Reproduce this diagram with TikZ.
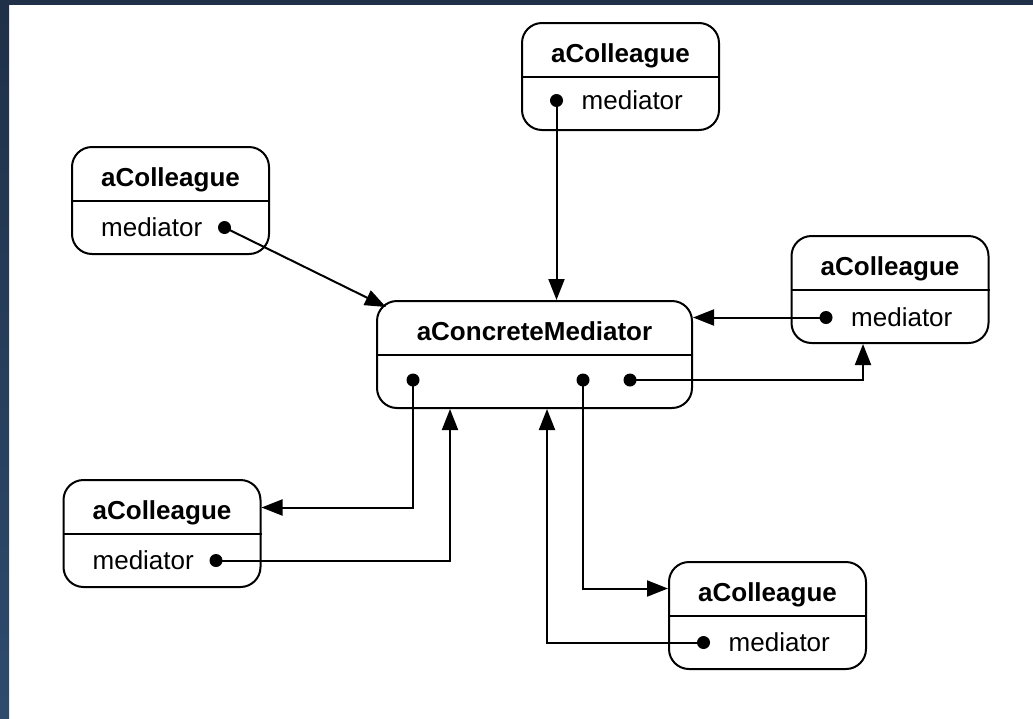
\documentclass[tikz,border=0pt]{standalone}
\usepackage{fontspec}
\setmainfont{Liberation Sans}
\usetikzlibrary{arrows.meta}
\definecolor{frame}{HTML}{1F3048}
\definecolor{framelow}{HTML}{2E4B6E}
\tikzset{
	>={Triangle[length=21pt,width=16pt]},
	obj/.style={draw, rounded corners=20pt, line width=2pt, minimum width=197pt, minimum height=107pt, inner sep=0pt},
	rule/.style={line width=2pt},
	pin/.style={circle, fill, inner sep=0pt, minimum size=13pt},
	title/.style={inner sep=0pt, anchor=base, font=\bfseries\fontsize{26}{30}\selectfont},
	field/.style={inner sep=0pt, font=\fontsize{26}{30}\selectfont},
	link/.style={line width=2pt, ->},
}
\newcommand{\colleague}[2]{
\node[obj] (#1) at (#2) {};
\node[title] (#1-t) at ([yshift=14pt]#1.center) {aColleague};
\draw[rule] (#1.west) -- (#1.east);
}
\begin{document}
\begin{tikzpicture}[x=1pt, y=-1pt]
		\useasboundingbox (0,0) rectangle (1033,718);
		
		% Frame
		\fill[frame] (0,0) rectangle (1033,5);
		\shade[top color=frame, bottom color=framelow] (0,0) rectangle (9,718);
		
		% Mediator
		\node[obj, minimum width=315pt] (med) at (534.5,354.5) {};
		\node[title] (med-t) at ([yshift=14pt]med.center) {aConcreteMediator};
		\draw[rule] (med.west) -- (med.east);
		\node[pin] (med-p1) at (413,380) {};
		\node[pin] (med-p2) at (583,380) {};
		\node[pin] (med-p3) at (630,380) {};
		
		% Colleagues
		\colleague{cTop}{620.5,76.5}
		\colleague{cLeft}{170.5,200.5}
		\colleague{cRight}{890,289.5}
		\colleague{cLowL}{162,533.5}
		\colleague{cLowR}{767.5,615.5}
		
		% Fields
		%% pin on the right
		\node[pin] (cLeft-p) at ([xshift=54pt,yshift=-27pt]cLeft.center) {};
		\node[field, anchor=base east] (cLeft-f) at ([xshift=-22pt,yshift=-8.5pt]cLeft-p.center) {mediator};
		\node[pin] (cLowL-p) at ([xshift=54pt,yshift=-27pt]cLowL.center) {};
		\node[field, anchor=base east] (cLowL-f) at ([xshift=-22pt,yshift=-8.5pt]cLowL-p.center) {mediator};
		%% pin on the left
		\node[pin] (cTop-p) at ([xshift=-64pt,yshift=-24pt]cTop.center) {};
		\node[field, anchor=base west] (cTop-f) at ([xshift=25pt,yshift=-8.5pt]cTop-p.center) {mediator};
		\node[pin] (cRight-p) at ([xshift=-64pt,yshift=-28pt]cRight.center) {};
		\node[field, anchor=base west] (cRight-f) at ([xshift=25pt,yshift=-8.5pt]cRight-p.center) {mediator};
		\node[pin] (cLowR-p) at ([xshift=-64pt,yshift=-27pt]cLowR.center) {};
		\node[field, anchor=base west] (cLowR-f) at ([xshift=25pt,yshift=-8.5pt]cLowR-p.center) {mediator};
		
		% Links
		\draw[link] (cTop-p.center) -- (cTop-p |- med.north);
		\draw[link] (cLeft-p.center) -- ([xshift=10pt,yshift=-7pt]med.north west);
		\draw[link] (cRight-p.center) -- (cRight-p -| med.east);
		\draw[link] (med-p3.center) -| ([xshift=-27pt]cRight.south);
		\draw[link] (med-p1.center) |- ([yshift=26pt]cLowL.east);
		\draw[link] (cLowL-p.center) -| ([xshift=-84.5pt]med.south);
		\draw[link] (med-p2.center) |- ([yshift=27pt]cLowR.west);
		\draw[link] (cLowR-p.center) -| ([xshift=12.5pt]med.south);
	\end{tikzpicture}
\end{document}
